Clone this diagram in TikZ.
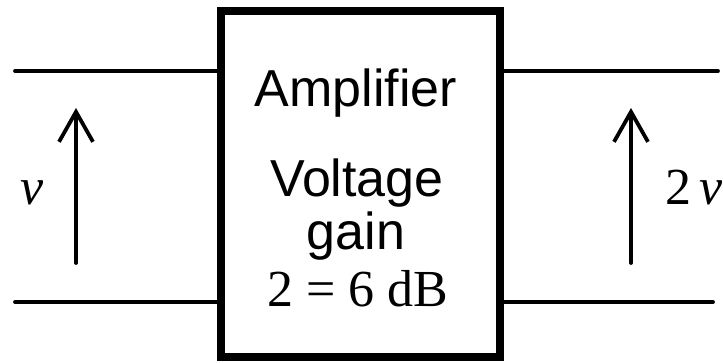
\documentclass[tikz,border=0pt]{standalone}
\usepackage{fontspec}
\setmainfont{Liberation Serif}
\setsansfont{Liberation Sans}
\usetikzlibrary{arrows.meta,calc}
\tikzset{
	wire/.style={line width=3.8pt},
	sig/.style={line width=3.8pt,->},
	lbl/.style={font=\fontsize{52}{60}\selectfont,inner sep=0pt},
	boxtxt/.style={font=\sffamily\fontsize{52}{60}\selectfont,inner sep=0pt}
}

\begin{document}
\begin{tikzpicture}[x=1pt,y=1pt,>={Straight Barb[length=30pt,width=34pt]}, line join=round, line cap=round]
	\def \xl{15} \def \xr{718} \def \yt{292} \def \yb{61}
	\useasboundingbox (0,0) rectangle (723,363);
	% amplifier block
	\node[draw,line width=8pt,line join=miter,line cap=butt,minimum width=279pt,minimum height=346pt,inner sep=0pt] (amp) at (360.5,179) {};
	\node[boxtxt,anchor=base] (name) at (356,256) {Amplifier};
	\node[boxtxt,anchor=base] (volt) at (357,166) {Voltage};
	\node[boxtxt,anchor=base] (gain) at (356,113) {gain};
	\node[lbl,anchor=base] (db) at (358,56) {2 = 6 dB};
	% terminals
	\coordinate (inT) at (\xl,\yt);
	\coordinate (inB) at (\xl,\yb);
	\coordinate (outT) at (\xr,\yt);
	\coordinate (outB) at (713,\yb);
	\draw[wire] (inT) -- (inT -| amp.west);
	\draw[wire] (inB) -- (inB -| amp.west);
	\draw[wire] (amp.east |- outT) -- (outT);
	\draw[wire] (amp.east |- outB) -- (outB);
	% voltages
	\coordinate (vinB) at (76,100);
	\coordinate (vinT) at (76,255);
	\coordinate (voutB) at (631,100);
	\coordinate (voutT) at (631,255);
	\draw[sig] (vinB) -- (vinT);
	\draw[sig] (voutB) -- (voutT);
	\node[lbl,anchor=base] (vin) at (32,158) {\textit{v}};
	\node[lbl,anchor=base] (vout) at (694,158) {2\,\textit{v}};
\end{tikzpicture}
\end{document}
